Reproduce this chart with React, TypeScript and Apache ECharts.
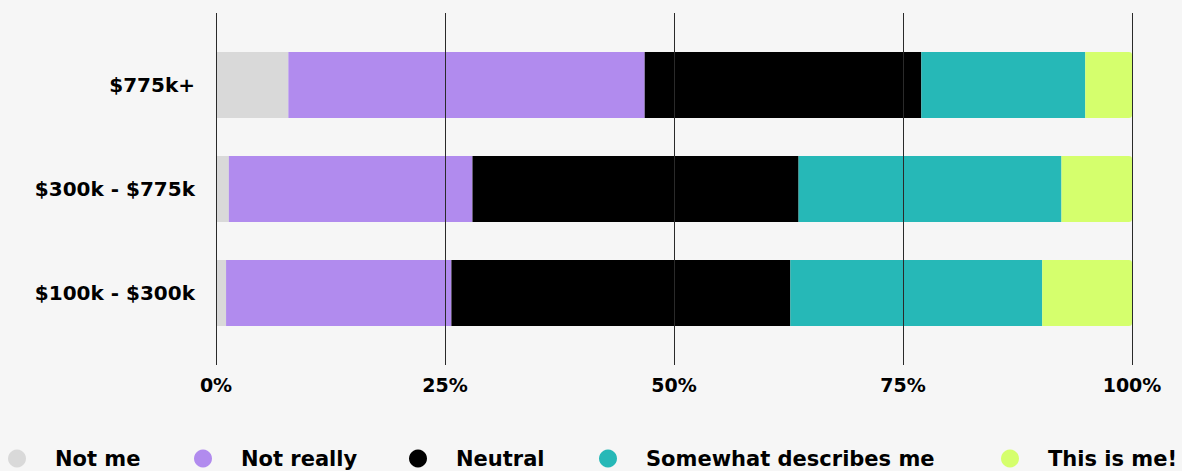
import React, { useEffect, useRef } from "react";
import * as echarts from "echarts";

const categories = ["$775k+", "$300k - $775k", "$100k - $300k"];
const seriesNames = ["Not me", "Not really", "Neutral", "Somewhat describes me", "This is me!"];
const notMe = [7.9, 1.4, 1.1];
const notReally = [38.9, 26.6, 24.6];
const neutral = [30.2, 35.6, 37.0];
const somewhat = [17.9, 28.7, 27.5];
const thisIsMe = [5.1, 7.7, 9.8];
const tickValues = [0, 25, 50, 75, 100];

const colors = ["#d9d9d9", "#b18bee", "#000000", "#26b8b7", "#d5ff6d"];
const legendLefts = [8, 194, 409, 599, 1001];
const FONT = "'DejaVu Sans', 'Noto Sans', sans-serif";

export default function App() {
  const ref = useRef<HTMLDivElement>(null);
  useEffect(() => {
    if (!ref.current) return;
    const chart = echarts.init(ref.current, undefined, { renderer: "svg" });
    const values = [notMe, notReally, neutral, somewhat, thisIsMe];
    chart.setOption({
      animation: false,
      backgroundColor: "#f6f6f6",
      textStyle: { fontFamily: FONT },
      grid: [
        { left: 216, right: 50, top: 13, bottom: 106 },
        { left: 216, right: 50, top: 33, height: 312 },
      ],
      xAxis: [
        {
          gridIndex: 0,
          type: "value",
          min: tickValues[0],
          max: tickValues[tickValues.length - 1],
          interval: 25,
          z: 10,
          axisLine: { show: false },
          axisTick: { show: false },
          splitLine: { show: true, lineStyle: { color: "#2a2a2a", width: 1 } },
          axisLabel: {
            formatter: "{value}%",
            fontFamily: FONT,
            fontSize: 19,
            fontWeight: 700,
            color: "#000",
            margin: 10,
          },
        },
        { gridIndex: 1, type: "value", min: 0, max: 100, show: false },
      ],
      yAxis: [
        { gridIndex: 0, type: "value", show: false },
        {
          gridIndex: 1,
          type: "category",
          inverse: true,
          data: categories,
          axisLine: { show: false },
          axisTick: { show: false },
          axisLabel: {
            fontFamily: FONT,
            fontSize: 20,
            fontWeight: 700,
            color: "#000",
            margin: 21,
            padding: [0, 0, 6, 0],
          },
        },
      ],
      legend: seriesNames.map((name, i) => ({
        data: [name],
        left: legendLefts[i],
        top: 448,
        icon: "circle",
        itemWidth: 18,
        itemHeight: 18,
        padding: 0,
        textStyle: {
          fontFamily: FONT,
          fontSize: 21,
          fontWeight: 700,
          color: "#000",
          padding: [0, 0, 0, 24],
        },
      })),
      series: seriesNames.map((name, i) => ({
        name,
        type: "bar",
        stack: "total",
        xAxisIndex: 1,
        yAxisIndex: 1,
        barWidth: 66,
        data: values[i],
        itemStyle: {
          color: colors[i],
          borderRadius: i === seriesNames.length - 1 ? [0, 3, 3, 0] : 0,
        },
      })),
    });
    return () => chart.dispose();
  }, []);
  return (
    <div
      ref={ref}
      style={{ position: "absolute", left: 0, top: 0, width: 1182, height: 471 }}
    />
  );
}
